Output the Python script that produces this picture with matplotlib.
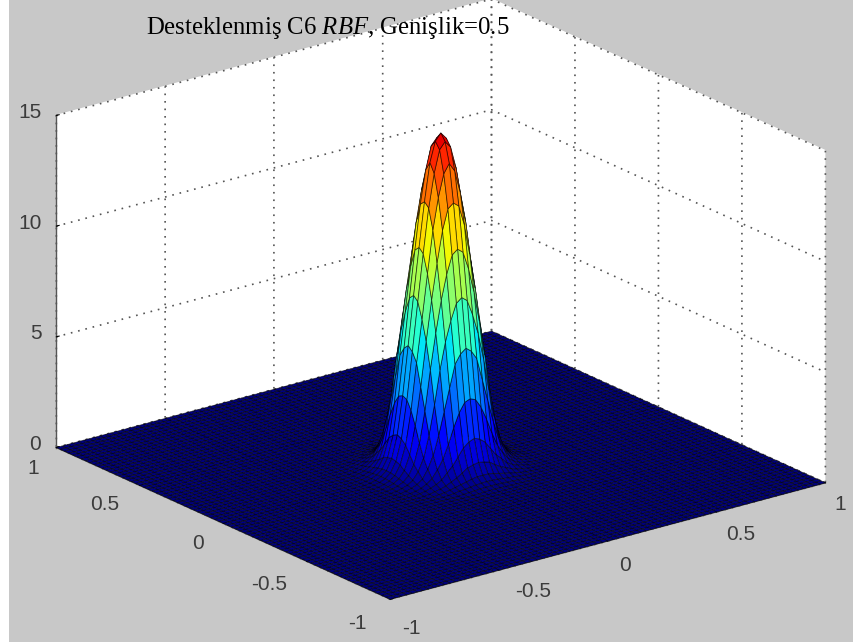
import numpy as np
import matplotlib
matplotlib.use('Agg')
import matplotlib.pyplot as plt
from mpl_toolkits.mplot3d import proj3d

plt.rcParams['mathtext.fontset'] = 'custom'
plt.rcParams['mathtext.rm'] = 'Liberation Serif'
plt.rcParams['mathtext.it'] = 'Liberation Serif:italic'

# Mesh axis and heights, upper triangle of one quadrant
mesh_step = 0.025
mesh_count = 81
peak_rows = [
    [15.0, 14.7, 13.8, 12.1, 10.1, 8.0, 5.8, 3.6, 1.9, 0.9, 0.4, 0.2, 0.09, 0.03],
    [14.4, 13.4, 11.9, 9.9, 7.8, 5.6, 3.5, 1.8, 0.85, 0.39, 0.19, 0.09, 0.03],
    [12.4, 11.0, 9.1, 7.1, 5.2, 3.1, 1.6, 0.78, 0.35, 0.17, 0.08, 0.02],
    [9.6, 8.0, 6.2, 4.2, 2.5, 1.25, 0.6, 0.29, 0.14, 0.06, 0.01],
    [6.6, 5.0, 3.2, 1.8, 0.9, 0.45, 0.23, 0.11, 0.05, 0.01],
    [3.5, 2.2, 1.2, 0.65, 0.33, 0.17, 0.09, 0.03, 0.0],
    [1.35, 0.78, 0.4, 0.22, 0.12, 0.05, 0.01, 0.0],
    [0.44, 0.26, 0.14, 0.07, 0.03, 0.0, 0.0],
    [0.16, 0.09, 0.04, 0.01, 0.0, 0.0],
    [0.04, 0.01, 0.0, 0.0, 0.0],
]

xy_ticks = [-1, -0.5, 0, 0.5, 1]
xy_labels = ['-1', '-0.5', '0', '0.5', '1']
z_ticks = [0, 5, 10, 15]
z_labels = ['0', '5', '10', '15']
title_text = r'Desteklenmiş C6 $\mathit{RBF}$, Genişlik=0.5'

# Build the full surface from the triangle
n = len(peak_rows[0])
quad = np.zeros((n, n))
for i, row in enumerate(peak_rows):
    quad[i, i:i + len(row)] = row
    quad[i:i + len(row), i] = row
top = np.hstack([quad[:, :0:-1], quad])
peak = np.vstack([top[:0:-1], top])
Z = np.zeros((mesh_count, mesh_count))
mid = mesh_count // 2
Z[mid - n + 1:mid + n, mid - n + 1:mid + n] = peak
grid = np.arange(mesh_count) * mesh_step - 1
X, Y = np.meshgrid(grid, grid)

W, H = 854, 642
fig = plt.figure(figsize=(W / 100, H / 100), dpi=100, facecolor='#c8c8c8')
fig.patches.append(plt.Rectangle((0, 0), 9 / W, 1, transform=fig.transFigure,
                                 facecolor='white', edgecolor='none'))

size = 1100
cx, cy = 426, 314
ax = fig.add_axes([(cx - size / 2) / W, (H - cy - size / 2) / H, size / W, size / H],
                  projection='3d', proj_type='ortho', facecolor='none')
ax.patch.set_visible(False)
ax.view_init(elev=20.4, azim=-127.5)
ax.set_box_aspect((1, 1, 0.646), zoom=0.7526)

ax.plot_surface(X, Y, Z, cmap='jet', vmin=0, vmax=16.2, rstride=1, cstride=1,
                shade=False, edgecolor=(0, 0, 0, 0.6), linewidth=0.6, antialiased=True)

ax.set_xlim(-1, 1)
ax.set_ylim(-1, 1)
ax.set_zlim(0, 15)
ax.set_xticks(xy_ticks)
ax.set_yticks(xy_ticks)
ax.set_zticks(z_ticks)
ax.set_xticklabels([])
ax.set_yticklabels([])
ax.set_zticklabels([])

for axis in (ax.xaxis, ax.yaxis, ax.zaxis):
    axis.set_pane_color((1, 1, 1, 1))
    axis.pane.set_edgecolor('white')
    axis._axinfo['grid'].update(color='#555555', linestyle=(0, (1, 3.5)), linewidth=1.2)
    axis._axinfo['tick'].update(inward_factor=0.0, outward_factor=0.08)
    axis.line.set_color('#555555')
    axis.line.set_linewidth(1.0)

# Matlab style labels, offsets in pixels from the axis edge
M = ax.get_proj()


def tick_text(x, y, z, label, dx, dy, ha='center'):
    px, py, _ = proj3d.proj_transform(x, y, z, M)
    ax.annotate(label, xy=(px, py), xytext=(dx, dy), textcoords='offset pixels',
                ha=ha, va='center', fontsize=15, color='#3c3c3c',
                family='Liberation Sans', annotation_clip=False)


y_offsets = [(-33, -24), (-38, -23), (-25, -20), (-35, -19), (-23, -21)]
x_offsets = [(21, -29), (34, -21), (17, -24), (24, -23), (15, -22)]
for tick, label, off in zip(xy_ticks, xy_labels, y_offsets):
    tick_text(-1, tick, 0, label, off[0], off[1])
for tick, label, off in zip(xy_ticks, xy_labels, x_offsets):
    tick_text(tick, -1, 0, label, off[0], off[1])
for tick, label in zip(z_ticks, z_labels):
    tick_text(-1, 1, tick, label, -15, 3, ha='right')

fig.text(146 / W, 1 - 28 / H, title_text, fontsize=17.8, ha='left', va='center',
         family='Liberation Serif', color='black')

plt.savefig('out.png', dpi=100, facecolor=fig.get_facecolor())
